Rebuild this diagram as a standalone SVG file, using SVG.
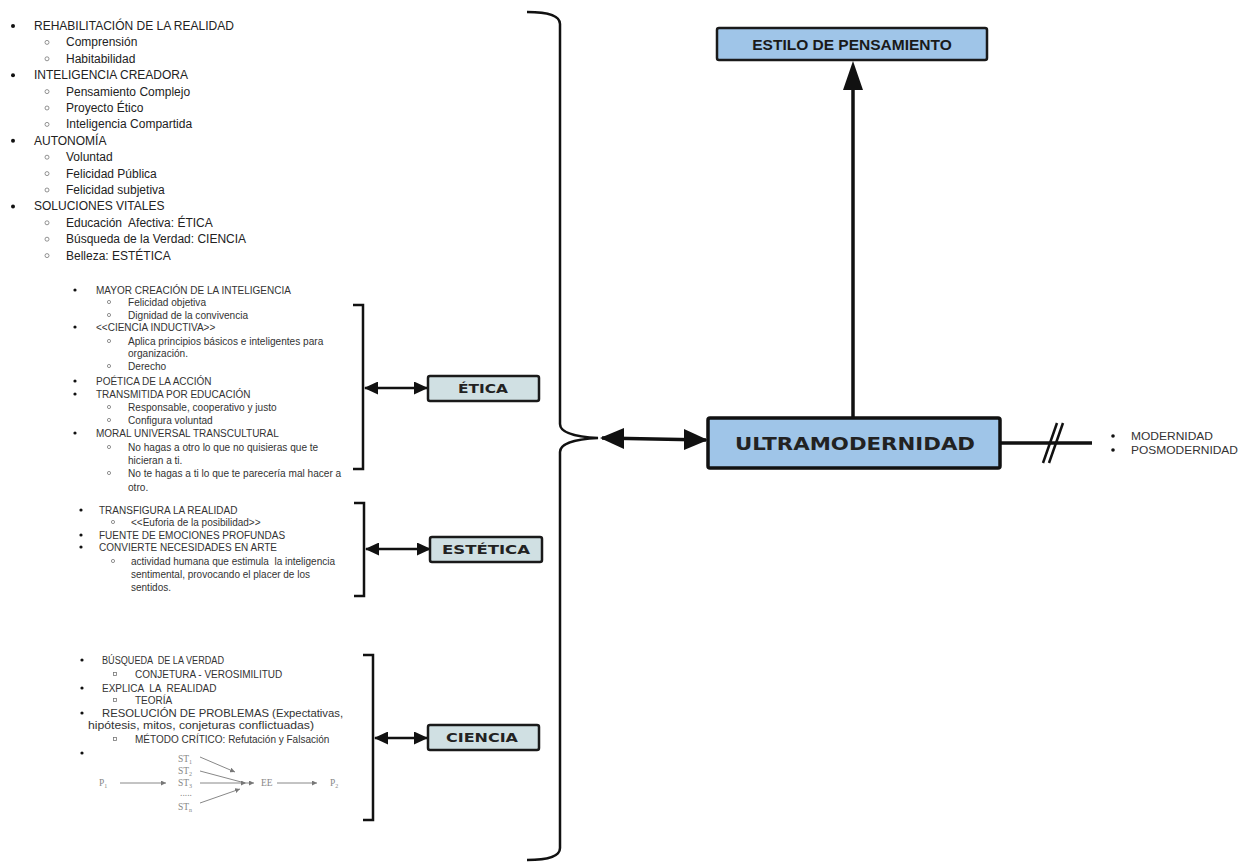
<svg xmlns="http://www.w3.org/2000/svg" width="1246" height="865" viewBox="0 0 1246 865">
<defs>
<style>
.t{font-family:"Liberation Sans",Arial,sans-serif;fill:#222;}
.L{font-size:12px;}
.s{font-size:10px;fill:#333;}
.ss{font-size:10.1px;}
.dg{font-family:"Liberation Serif","Times New Roman",serif;font-size:9.5px;fill:#888;}
.box{stroke:#1a1a1a;stroke-width:2.5;}
.bx{fill:#d0e0e3;stroke:#1a1a1a;stroke-width:2.5;}
.lbl{font-family:"DejaVu Sans",sans-serif;font-weight:bold;fill:#222;}
.br{fill:none;stroke:#111;stroke-width:2.5;}
.ln{stroke:#111;stroke-width:2.5;fill:none;}
.dot{fill:#111;}
.cir{fill:none;stroke:#777;stroke-width:0.8;}
.sq{fill:none;stroke:#777;stroke-width:0.8;}
.ga{stroke:#888;stroke-width:1;fill:none;}
</style>
<marker id="ah" markerWidth="14" markerHeight="13" refX="13" refY="6.5" orient="auto-start-reverse" markerUnits="userSpaceOnUse" viewBox="0 0 14 13"><path d="M0,0 L14,6.5 L0,13 z" fill="#111"/></marker>
<marker id="ahs" markerWidth="5" markerHeight="5" refX="5" refY="2.5" orient="auto" markerUnits="userSpaceOnUse" viewBox="0 0 5 5"><path d="M0,0 L5,2.5 L0,5 z" fill="#777"/></marker>
</defs>
<rect width="1246" height="865" fill="#fff"/>

<g id="lista-principal" class="t L">
<circle class="dot" cx="13" cy="26" r="2"/><text x="34" y="30">REHABILITACIÓN DE LA REALIDAD</text>
<circle class="cir" cx="47" cy="42.4" r="2"/><text x="66" y="46.4">Comprensión</text>
<circle class="cir" cx="47" cy="58.8" r="2"/><text x="66" y="62.8">Habitabilidad</text>
<circle class="dot" cx="13" cy="75.2" r="2"/><text x="34" y="79.2">INTELIGENCIA CREADORA</text>
<circle class="cir" cx="47" cy="91.6" r="2"/><text x="66" y="95.6">Pensamiento Complejo</text>
<circle class="cir" cx="47" cy="108" r="2"/><text x="66" y="112">Proyecto Ético</text>
<circle class="cir" cx="47" cy="124.4" r="2"/><text x="66" y="128.4">Inteligencia Compartida</text>
<circle class="dot" cx="13" cy="140.8" r="2"/><text x="34" y="144.8">AUTONOMÍA</text>
<circle class="cir" cx="47" cy="157.2" r="2"/><text x="66" y="161.2">Voluntad</text>
<circle class="cir" cx="47" cy="173.6" r="2"/><text x="66" y="177.6">Felicidad Pública</text>
<circle class="cir" cx="47" cy="190" r="2"/><text x="66" y="194">Felicidad subjetiva</text>
<circle class="dot" cx="13" cy="206.4" r="2"/><text x="34" y="210.4">SOLUCIONES VITALES</text>
<circle class="cir" cx="47" cy="222.8" r="2"/><text x="66" y="226.8" style="white-space:pre">Educación  Afectiva: ÉTICA</text>
<circle class="cir" cx="47" cy="239.2" r="2"/><text x="66" y="243.2">Búsqueda de la Verdad: CIENCIA</text>
<circle class="cir" cx="47" cy="255.6" r="2"/><text x="66" y="259.6">Belleza: ESTÉTICA</text>
</g>

<g id="lista-etica" class="t s">
<circle class="dot" cx="75" cy="290" r="1.6"/><text x="96" y="293.5">MAYOR CREACIÓN DE LA INTELIGENCIA</text>
<circle class="cir" cx="109" cy="302" r="1.6"/><text class="ss" x="128" y="305.5">Felicidad objetiva</text>
<circle class="cir" cx="109" cy="315" r="1.6"/><text class="ss" x="128" y="318.5">Dignidad de la convivencia</text>
<circle class="dot" cx="75" cy="327" r="1.6"/><text x="96" y="330.5">&lt;&lt;CIENCIA INDUCTIVA&gt;&gt;</text>
<circle class="cir" cx="109" cy="341" r="1.6"/><text class="ss" x="128" y="344.5">Aplica principios básicos e inteligentes para</text>
<text class="ss" x="128" y="356.5">organización.</text>
<circle class="cir" cx="109" cy="366" r="1.6"/><text class="ss" x="128" y="369.5">Derecho</text>
<circle class="dot" cx="75" cy="381" r="1.6"/><text x="96" y="384.5">POÉTICA DE LA ACCIÓN</text>
<circle class="dot" cx="75" cy="394" r="1.6"/><text x="96" y="397.5">TRANSMITIDA POR EDUCACIÓN</text>
<circle class="cir" cx="109" cy="407" r="1.6"/><text class="ss" x="128" y="410.5">Responsable, cooperativo y justo</text>
<circle class="cir" cx="109" cy="420" r="1.6"/><text class="ss" x="128" y="423.5">Configura voluntad</text>
<circle class="dot" cx="75" cy="433" r="1.6"/><text x="96" y="436.5">MORAL UNIVERSAL TRANSCULTURAL</text>
<circle class="cir" cx="109" cy="447" r="1.6"/><text class="ss" x="128" y="450.5">No hagas a otro lo que no quisieras que te</text>
<text class="ss" x="128" y="463.5">hicieran a ti.</text>
<circle class="cir" cx="109" cy="473" r="1.6"/><text class="ss" x="128" y="476.5">No te hagas a ti lo que te parecería mal hacer a</text>
<text class="ss" x="128" y="490.5">otro.</text>
</g>

<g id="lista-estetica" class="t s">
<circle class="dot" cx="81" cy="510" r="1.6"/><text x="99" y="513.5">TRANSFIGURA LA REALIDAD</text>
<circle class="cir" cx="113" cy="522" r="1.6"/><text x="131" y="525.5">&lt;&lt;Euforia de la posibilidad&gt;&gt;</text>
<circle class="dot" cx="81" cy="535" r="1.6"/><text x="99" y="538.5">FUENTE DE EMOCIONES PROFUNDAS</text>
<circle class="dot" cx="81" cy="547" r="1.6"/><text x="99" y="550.5">CONVIERTE NECESIDADES EN ARTE</text>
<circle class="cir" cx="113" cy="561" r="1.6"/><text x="131" y="564.5" style="white-space:pre">actividad humana que estimula  la inteligencia</text>
<text x="131" y="577.5">sentimental, provocando el placer de los</text>
<text x="131" y="590.5">sentidos.</text>
</g>

<g id="lista-ciencia" class="t s">
<circle class="dot" cx="82" cy="660" r="1.6"/><text x="102" y="663.5" style="white-space:pre" textLength="122" lengthAdjust="spacingAndGlyphs">BÚSQUEDA  DE LA VERDAD</text>
<rect class="sq" x="113.5" y="672.5" width="3" height="3"/><text x="135" y="677.5">CONJETURA - VEROSIMILITUD</text>
<circle class="dot" cx="82" cy="688" r="1.6"/><text x="102" y="691.5" style="white-space:pre">EXPLICA  LA  REALIDAD</text>
<rect class="sq" x="113.5" y="698.5" width="3" height="3"/><text x="135" y="703.5">TEORÍA</text>
<circle class="dot" cx="82" cy="713" r="1.6"/><text x="102" y="716.5" font-size="11.3">RESOLUCIÓN DE PROBLEMAS (Expectativas,</text>
<text x="88" y="728.5" font-size="11.3" textLength="226" lengthAdjust="spacingAndGlyphs">hipótesis, mitos, conjeturas conflictuadas)</text>
<rect class="sq" x="113.5" y="737.5" width="3" height="3"/><text x="135" y="742.5">MÉTODO CRÍTICO: Refutación y Falsación</text>
<circle class="dot" cx="82" cy="753" r="1.6"/>
</g>

<g id="esquema-popper">
<text class="dg" x="99" y="786">P<tspan font-size="6" dy="2">1</tspan></text>
<line class="ga" x1="120" y1="783" x2="166" y2="783" marker-end="url(#ahs)"/>
<text class="dg" x="178" y="762">ST<tspan font-size="6" dy="2">1</tspan></text>
<text class="dg" x="178" y="774">ST<tspan font-size="6" dy="2">2</tspan></text>
<text class="dg" x="178" y="786">ST<tspan font-size="6" dy="2">3</tspan></text>
<text class="dg" x="180" y="796">.....</text>
<text class="dg" x="178" y="810">ST<tspan font-size="6" dy="2">n</tspan></text>
<line class="ga" x1="200" y1="757" x2="235" y2="772" marker-end="url(#ahs)"/>
<line class="ga" x1="200" y1="771" x2="245" y2="783"/>
<line class="ga" x1="200" y1="783" x2="246" y2="783" marker-end="url(#ahs)"/>
<line class="ga" x1="200" y1="803" x2="240" y2="789" marker-end="url(#ahs)"/>
<line class="ga" x1="246" y1="783" x2="254" y2="783" marker-end="url(#ahs)"/>
<text class="dg" x="261" y="786">EE</text>
<line class="ga" x1="277" y1="783" x2="317" y2="783" marker-end="url(#ahs)"/>
<text class="dg" x="330" y="786">P<tspan font-size="6" dy="2">2</tspan></text>
</g>

<g id="modernidad" class="t" font-size="10.5">
<circle class="dot" cx="1113" cy="436" r="1.8"/><text x="1131" y="439.5" fill="#333" textLength="82" lengthAdjust="spacingAndGlyphs">MODERNIDAD</text>
<circle class="dot" cx="1113" cy="450" r="1.8"/><text x="1131" y="453.5" fill="#333" textLength="107" lengthAdjust="spacingAndGlyphs">POSMODERNIDAD</text>
</g>

<g id="conectores">
<path class="br" d="M527 12 Q560 12 560 24 L560 424 Q560 436 598 438 Q560 440 560 452 L560 848 Q560 860 527 860"/>
<path class="br" d="M353 305 L363 305 L363 469 L353 469"/>
<path class="br" d="M354 503 L364 503 L364 596 L354 596"/>
<path class="br" d="M363 655 L373 655 L373 820 L363 820"/>
<line class="ln" x1="365" y1="388" x2="427" y2="388" marker-start="url(#ah)" marker-end="url(#ah)"/>
<line class="ln" x1="366" y1="549" x2="430" y2="549" marker-start="url(#ah)" marker-end="url(#ah)"/>
<line class="ln" x1="375" y1="738" x2="427" y2="738" marker-start="url(#ah)" marker-end="url(#ah)"/>
<line x1="602" y1="438" x2="706" y2="440" stroke="#111" stroke-width="3.5"/>
<path d="M600 438 L624 428 L624 449 z" fill="#111"/>
<path d="M708 440 L684 429 L684 450 z" fill="#111"/>
<line x1="853" y1="418" x2="853" y2="80" stroke="#111" stroke-width="3.5"/>
<path d="M853 61 L843 90 L863 90 z" fill="#111"/>
<line x1="1000" y1="443" x2="1092" y2="443" stroke="#111" stroke-width="3.5"/>
<line x1="1043" y1="463" x2="1057" y2="423" stroke="#111" stroke-width="2.5"/>
<line x1="1049" y1="463" x2="1063" y2="423" stroke="#111" stroke-width="2.5"/>
</g>

<g id="estilo">
<rect class="box" x="717" y="28" width="270" height="32" rx="2" fill="#9fc5e8"/>
<text x="852" y="50" text-anchor="middle" font-family="Liberation Sans, Arial, sans-serif" font-weight="bold" font-size="15.5" fill="#1a1a1a">ESTILO DE PENSAMIENTO</text>
</g>
<g id="ultramodernidad">
<rect x="708" y="418" width="292" height="50" rx="2" fill="#9fc5e8" stroke="#111" stroke-width="3.5"/>
<text class="lbl" x="855" y="450" text-anchor="middle" font-size="17" textLength="240" lengthAdjust="spacingAndGlyphs">ULTRAMODERNIDAD</text>
</g>
<g id="etica">
<rect class="bx" x="428" y="376" width="111" height="25" rx="2"/>
<text class="lbl" x="483" y="393" text-anchor="middle" font-size="12" textLength="50" lengthAdjust="spacingAndGlyphs">ÉTICA</text>
</g>
<g id="estetica">
<rect class="bx" x="430" y="537" width="112" height="25" rx="2"/>
<text class="lbl" x="486" y="554" text-anchor="middle" font-size="12" textLength="88" lengthAdjust="spacingAndGlyphs">ESTÉTICA</text>
</g>
<g id="ciencia">
<rect class="bx" x="428" y="725" width="111" height="25" rx="2"/>
<text class="lbl" x="482" y="742" text-anchor="middle" font-size="12" textLength="72" lengthAdjust="spacingAndGlyphs">CIENCIA</text>
</g>
</svg>
